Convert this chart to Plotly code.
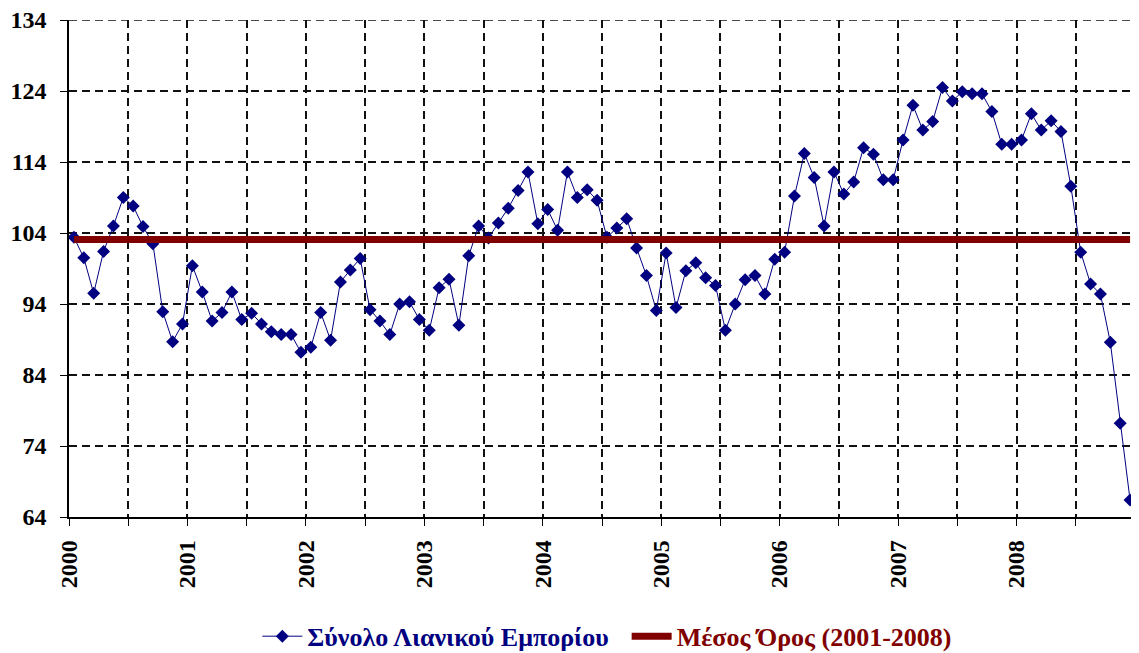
import plotly.graph_objects as go

# Monthly index, Jan 2000 - Dec 2008
years = ["2000", "2001", "2002", "2003", "2004", "2005", "2006", "2007", "2008"]
retail_total = [
    103.4, 100.5, 95.5, 101.4, 105.0, 109.0, 107.8, 104.9, 102.5, 92.9, 88.7, 91.2,      # 2000
    99.4, 95.7, 91.6, 92.8, 95.7, 91.8, 92.7, 91.2, 90.1, 89.7, 89.7, 87.2,              # 2001
    87.9, 92.8, 88.9, 97.1, 98.8, 100.4, 93.2, 91.6, 89.7, 94.0, 94.3, 91.8,             # 2002
    90.3, 96.3, 97.5, 91.0, 100.8, 105.0, 103.3, 105.4, 107.5, 110.0, 112.6, 105.3,      # 2003
    107.3, 104.4, 112.6, 109.0, 110.1, 108.6, 103.4, 104.7, 106.0, 101.9, 98.0, 93.1,    # 2004
    101.2, 93.5, 98.7, 99.8, 97.7, 96.6, 90.3, 94.0, 97.4, 98.0, 95.4, 100.3,            # 2005
    101.3, 109.2, 115.2, 111.8, 105.0, 112.6, 109.5, 111.2, 116.0, 115.1, 111.5, 111.5,  # 2006
    117.1, 122.0, 118.5, 119.7, 124.5, 122.6, 123.9, 123.6, 123.6, 121.1, 116.5, 116.5,  # 2007
    117.1, 120.8, 118.5, 119.8, 118.3, 110.6, 101.3, 96.8, 95.4, 88.6, 77.2, 66.4,       # 2008
]
mean_2001_2008 = 103.1
y_ticks = [64, 74, 84, 94, 104, 114, 124, 134]

series_name = "Σύνολο Λιανικού Εμπορίου"
mean_name = "Μέσος Όρος (2001-2008)"

n = len(retail_total)
months = list(range(n))
mean_line = [mean_2001_2008] * n

x_lo, x_hi = -0.5, n - 0.5
n_grid = 18
grid_vals = [x_lo + k * (x_hi - x_lo) / n_grid for k in range(n_grid + 1)]
grid_text = []
for k in range(n_grid + 1):
    if k % 2 == 0 and k // 2 < len(years):
        grid_text.append("<b>%s</b>" % years[k // 2])
    else:
        grid_text.append("")

NAVY = "#000080"
MAROON = "#800000"
FONT = "Liberation Serif"
GRID = "#111111"
NBSP = "\u00a0"

fig = go.Figure()
fig.add_trace(go.Scatter(
    x=months, y=retail_total, mode="lines+markers",
    name="<b><span style='color:%s'>%s</span></b>%s" % (NAVY, series_name, NBSP * 2),
    line=dict(color=NAVY, width=1),
    marker=dict(symbol="diamond", size=10, color=NAVY, line=dict(width=0)),
    cliponaxis=False,
))
fig.add_trace(go.Scatter(
    x=months, y=mean_line, mode="lines",
    name="<b><span style='color:%s'>%s</span></b>" % (MAROON, mean_name),
    line=dict(color=MAROON, width=7),
    cliponaxis=False,
))

# dashed border lines at the top and right edge, like the chart's outer gridlines
fig.add_shape(type="line", xref="paper", yref="y", x0=0, x1=1, y0=y_ticks[-1], y1=y_ticks[-1],
              line=dict(color=GRID, width=1.5, dash="8px,5px"), layer="below")
fig.add_shape(type="line", xref="x", yref="paper", x0=x_hi, x1=x_hi, y0=0, y1=1,
              line=dict(color=GRID, width=1.5, dash="8px,5px"), layer="below")

fig.update_layout(
    width=1131, height=645,
    margin=dict(l=61, r=4, t=12, b=136, autoexpand=False),
    paper_bgcolor="white", plot_bgcolor="white",
    font=dict(family=FONT, size=24, color="black"),
    showlegend=True,
    legend=dict(orientation="h", x=0.505, xanchor="center", y=-0.24, yanchor="middle",
                font=dict(family=FONT, size=26), traceorder="normal",
                itemwidth=40, bgcolor="rgba(0,0,0,0)"),
)
fig.update_xaxes(
    range=[x_lo, x_hi], tickmode="array", tickvals=grid_vals, ticktext=grid_text,
    tickangle=-90, showgrid=True, gridcolor=GRID, gridwidth=1.5, griddash="8px,5px",
    showline=True, linecolor="black", linewidth=1.5, ticks="outside", ticklen=7,
    tickcolor="black", zeroline=False, ticklabelstandoff=5, ticklabeloverflow="allow",
    tickfont=dict(family=FONT, size=24, color="black"),
)
fig.update_yaxes(
    range=[64, 134], tickmode="array", tickvals=y_ticks,
    ticktext=["<b>%d</b>" % v for v in y_ticks],
    showgrid=True, gridcolor=GRID, gridwidth=1.5, griddash="8px,5px",
    showline=True, linecolor="black", linewidth=1.5, ticks="outside", ticklen=7,
    tickcolor="black", zeroline=False, ticklabelstandoff=9, ticklabeloverflow="allow",
    tickfont=dict(family=FONT, size=24, color="black"),
)

fig.write_html("out.html")
